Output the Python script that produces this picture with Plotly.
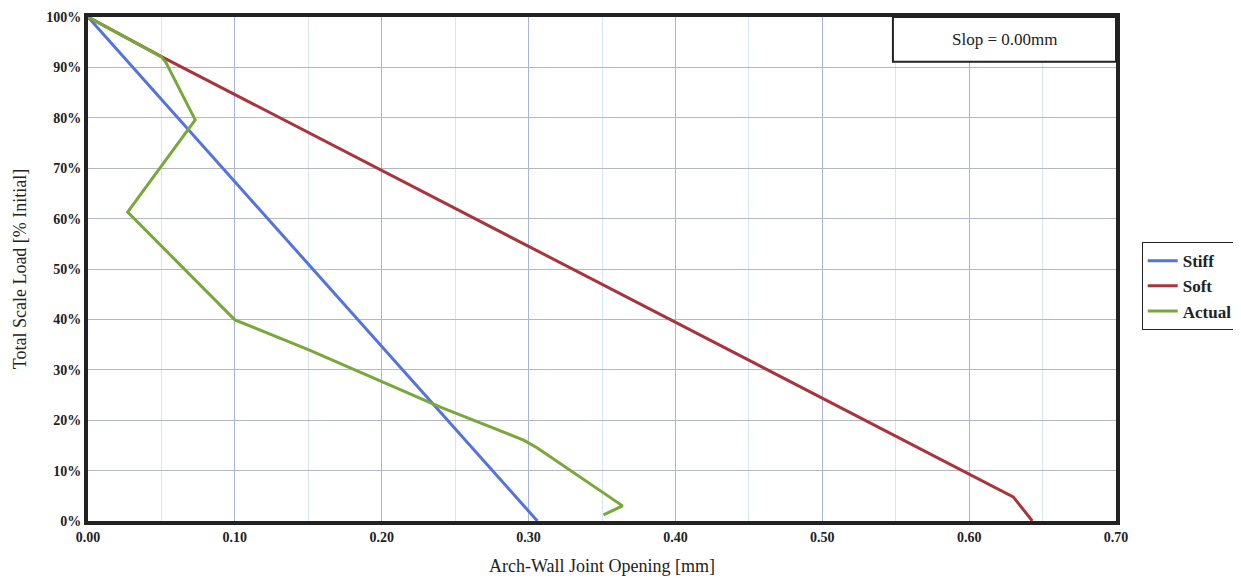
import plotly.graph_objects as go

# Data
stiff_x = [0.0, 0.306]
stiff_y = [100, 0]

soft_x = [0.0, 0.051, 0.630, 0.643]
soft_y = [100, 92.0, 4.8, 0]

actual_x = [0.0, 0.050, 0.053, 0.073, 0.027, 0.100, 0.150, 0.200, 0.240, 0.297, 0.306, 0.364, 0.351]
actual_y = [100, 92.1, 91.0, 79.6, 61.3, 39.9, 34.0, 27.7, 22.6, 16.0, 14.5, 3.0, 1.2]

x_ticks = [0.0, 0.1, 0.2, 0.3, 0.4, 0.5, 0.6, 0.7]
x_labels = ["0.00", "0.10", "0.20", "0.30", "0.40", "0.50", "0.60", "0.70"]
y_ticks = [0, 10, 20, 30, 40, 50, 60, 70, 80, 90, 100]
y_labels = ["0%", "10%", "20%", "30%", "40%", "50%", "60%", "70%", "80%", "90%", "100%"]

serif = "Liberation Serif, DejaVu Serif, serif"

fig = go.Figure()
fig.add_trace(go.Scatter(x=stiff_x, y=stiff_y, mode="lines", name="Stiff",
                         line=dict(color="#5474dc", width=3)))
fig.add_trace(go.Scatter(x=soft_x, y=soft_y, mode="lines", name="Soft",
                         line=dict(color="#a8343c", width=3)))
fig.add_trace(go.Scatter(x=actual_x, y=actual_y, mode="lines", name="Actual",
                         line=dict(color="#78a83a", width=3)))

fig.update_layout(
    width=1233, height=570,
    margin=dict(l=80, r=125, t=9, b=57, autoexpand=False),
    paper_bgcolor="white", plot_bgcolor="white",
    font=dict(family=serif, color="#222"),
    showlegend=True,
    legend=dict(x=1.025, y=0.466, xanchor="left", yanchor="middle",
                bordercolor="#222", borderwidth=1, bgcolor="white",
                font=dict(family=serif, size=17, color="#222", weight="bold"),
                itemwidth=30, tracegroupgap=0),
    xaxis=dict(range=[0, 0.7], tickvals=x_ticks, ticktext=x_labels,
               automargin=False,
               showgrid=True, gridcolor="#a8b4d8", gridwidth=1,
               minor=dict(dtick=0.05, showgrid=True, gridcolor="#d6e4f4", gridwidth=1),
               showline=True, linecolor="#222", linewidth=4, mirror=True,
               ticks="", zeroline=False,
               tickfont=dict(family=serif, size=14, color="#222", weight="bold"),
               title=dict(text="Arch-Wall Joint Opening [mm]", standoff=17,
                          font=dict(family=serif, size=18, color="#222"))),
    yaxis=dict(range=[0, 100], tickvals=y_ticks, ticktext=y_labels,
               automargin=False,
               showgrid=True, gridcolor="#b4b8c4", gridwidth=1,
               showline=True, linecolor="#222", linewidth=4, mirror=True,
               ticks="", zeroline=False,
               tickfont=dict(family=serif, size=14, color="#222", weight="bold"),
               title=dict(text="Total Scale Load [% Initial]", standoff=16,
                          font=dict(family=serif, size=18, color="#222"))),
)

fig.add_shape(type="rect", xref="paper", yref="paper",
              x0=0.783, x1=1.0, y0=0.911, y1=1.0,
              line=dict(color="#222", width=2), fillcolor="white", layer="above")
fig.add_annotation(xref="paper", yref="paper", x=0.8915, y=0.9555,
                   xanchor="center", yanchor="middle",
                   text="Slop = 0.00mm", showarrow=False,
                   font=dict(family=serif, size=17, color="#222"))

fig.write_html("out.html")
